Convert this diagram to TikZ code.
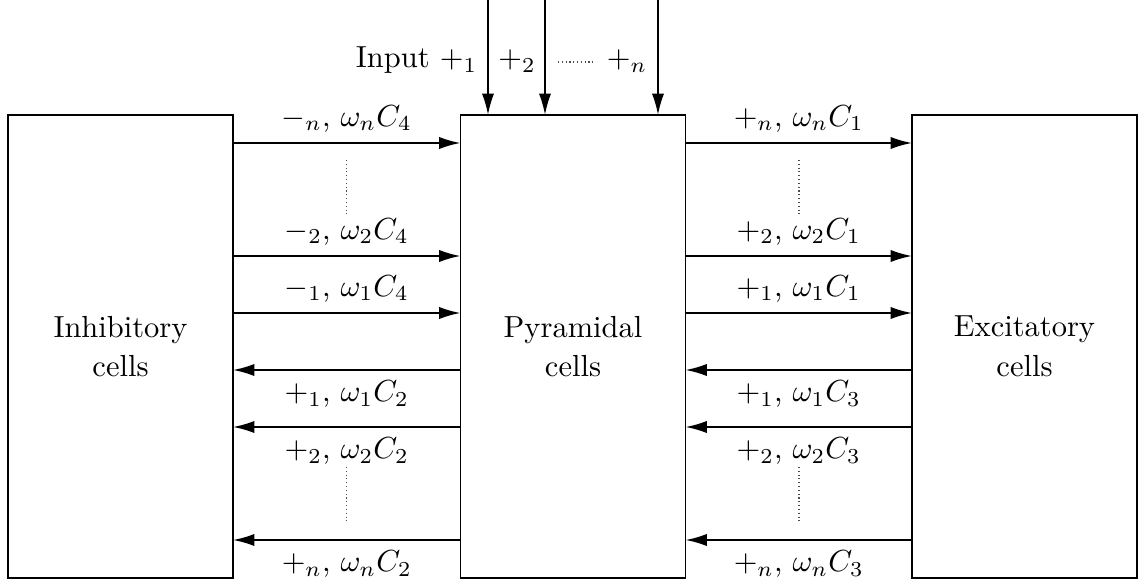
\documentclass[tikz,border=0pt]{standalone}
\usetikzlibrary{arrows.meta}
\begin{document}
\begin{tikzpicture}[x=0.328pt,y=-0.328pt,
  cellbox/.style={draw, line width=0.6pt, minimum width=73.8pt, minimum height=151.9pt, align=center, inner sep=0pt, outer sep=0pt},
  link/.style={line width=0.6pt, -{Latex[length=7pt,width=4pt]}},
  dots/.style={line width=0.4pt, dash pattern=on 0.35pt off 0.9pt, black!70}]
\useasboundingbox (0,0) rectangle (1143,583);
% boxes
\node[cellbox] (L) at (120.5,346.5) {Inhibitory\\[1pt]cells};
\node[cellbox] (P) at (573,346.5) {Pyramidal\\[1pt]cells};
\node[cellbox] (R) at (1024.5,346.5) {Excitatory\\[1pt]cells};
% row levels
\coordinate (r1) at (0,143);
\coordinate (r2) at (0,256);
\coordinate (r3) at (0,313);
\coordinate (r4) at (0,370);
\coordinate (r5) at (0,427);
\coordinate (r6) at (0,540);
% left connectors
\draw[link] (L.east |- r1) -- (P.west |- r1) node[midway, above] {$-_n$, $\omega_nC_4$};
\draw[link] (L.east |- r2) -- (P.west |- r2) node[midway, above] {$-_2$, $\omega_2C_4$};
\draw[link] (L.east |- r3) -- (P.west |- r3) node[midway, above] {$-_1$, $\omega_1C_4$};
\draw[link] (P.west |- r4) -- (L.east |- r4) node[midway, below] {$+_1$, $\omega_1C_2$};
\draw[link] (P.west |- r5) -- (L.east |- r5) node[midway, below] {$+_2$, $\omega_2C_2$};
\draw[link] (P.west |- r6) -- (L.east |- r6) node[midway, below] {$+_n$, $\omega_nC_2$};
% right connectors
\draw[link] (P.east |- r1) -- (R.west |- r1) node[midway, above] {$+_n$, $\omega_nC_1$};
\draw[link] (P.east |- r2) -- (R.west |- r2) node[midway, above] {$+_2$, $\omega_2C_1$};
\draw[link] (P.east |- r3) -- (R.west |- r3) node[midway, above] {$+_1$, $\omega_1C_1$};
\draw[link] (R.west |- r4) -- (P.east |- r4) node[midway, below] {$+_1$, $\omega_1C_3$};
\draw[link] (R.west |- r5) -- (P.east |- r5) node[midway, below] {$+_2$, $\omega_2C_3$};
\draw[link] (R.west |- r6) -- (P.east |- r6) node[midway, below] {$+_n$, $\omega_nC_3$};
% vertical dots
\draw[dots] (346.5,160) -- (346.5,215);
\draw[dots] (346.5,467) -- (346.5,522);
\draw[dots] (799,160) -- (799,215);
\draw[dots] (799,467) -- (799,522);
% inputs
\coordinate (i1) at (488,0);
\coordinate (i2) at (545,0);
\coordinate (i3) at (658,0);
\draw[link] (i1) -- (i1 |- P.north);
\draw[link] (i2) -- (i2 |- P.north);
\draw[link] (i3) -- (i3 |- P.north);
\node[anchor=base east] (t1) at (488,68) {Input $+_1$};
\node[anchor=base] (t2) at (517,68) {$+_2$};
\node[anchor=base east] (tn) at (658,68) {$+_n$};
\draw[dots] (558,62) -- (593,62);
\end{tikzpicture}
\end{document}
